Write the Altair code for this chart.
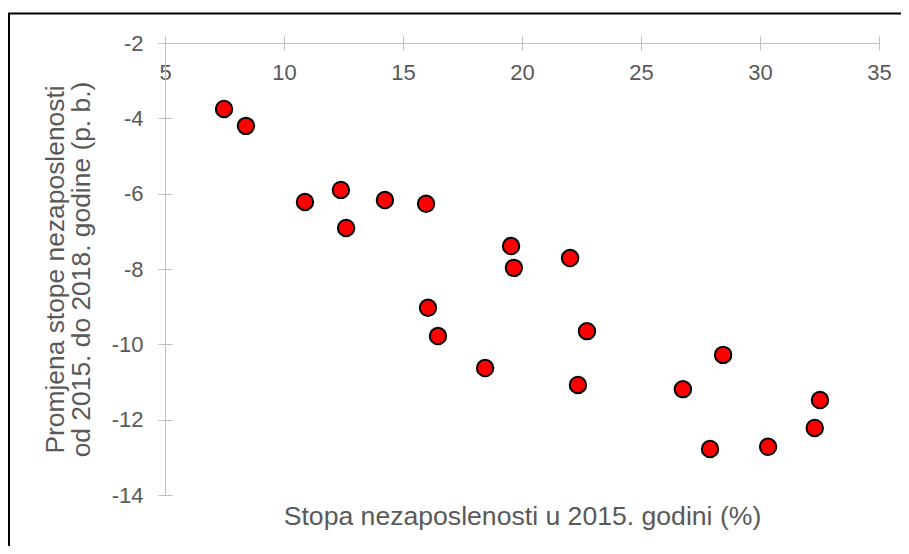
import altair as alt
import pandas as pd

# Data
x_vals = [7.48, 8.40, 10.88, 12.39, 12.61, 14.24, 15.97, 16.05, 16.47, 18.45,
          19.54, 19.66, 22.02, 22.73, 22.35, 26.76, 28.45, 27.90, 30.34, 32.52, 32.30]
y_vals = [-3.75, -4.20, -6.22, -5.90, -6.91, -6.17, -6.27, -9.03, -9.78, -10.63,
          -7.39, -7.97, -7.71, -9.65, -11.08, -11.19, -10.28, -12.78, -12.72, -11.48, -12.22]
x_ticks = [5, 10, 15, 20, 25, 30, 35]
y_ticks = [-14, -12, -10, -8, -6, -4, -2]

x_title = "Stopa nezaposlenosti u 2015. godini (%)"
y_title = ["Promjena stope nezaposlenosti", "od 2015. do 2018. godine (p. b.)"]

df = pd.DataFrame({"x": x_vals, "y": y_vals})

FONT = "Liberation Sans"
AX = "#bfbfbf"
TXT = "#595959"
W, H = 714, 452
FS = 22
MINUS_FIX = "replace(datum.label, '\u2212', '-')"

xs = alt.Scale(domain=[5, 35], nice=False, zero=False)
ys = alt.Scale(domain=[-14, -2], nice=False, zero=False)

common = dict(labelFont=FONT, titleFont=FONT, labelFontSize=FS,
              labelColor=TXT, titleColor=TXT, domainColor=AX, tickColor=AX,
              grid=False, titleFontWeight="normal", labelExpr=MINUS_FIX,
              labelFlush=False, labelOverlap=False)

# frame around the whole figure
frame = alt.Chart(pd.DataFrame({"a": [0]})).mark_rect(
    fill=None, stroke="black", strokeWidth=2
).encode(
    x=alt.value(-156), x2=alt.value(W + 60),
    y=alt.value(-29.5), y2=alt.value(H + 80)
)

# Layer A: visible points, left y axis with labels/title, x title at bottom
pts = alt.Chart(df).mark_point(
    shape="circle", filled=True, fill="#ff0000", stroke="black",
    strokeWidth=2, size=270, opacity=1
).encode(
    x=alt.X("x:Q", scale=xs, axis=alt.Axis(
        orient="bottom", domain=False, ticks=False, labels=False,
        title=x_title, titleFontSize=26.6, titleX=W / 2, titleY=29,
        titleAlign="center", titleBaseline="alphabetic", **common)),
    y=alt.Y("y:Q", scale=ys, axis=alt.Axis(
        orient="left", values=y_ticks, tickSize=7, labelPadding=15,
        title=y_title, titleFontSize=26.4, titleX=-102,
        titleBaseline="alphabetic", titleLineHeight=26, **common)),
)

# Layer B: x axis line at the top (y=-2) with labels below; inward y ticks
axB = alt.Chart(df).mark_point(opacity=0).encode(
    x=alt.X("x:Q", scale=xs, axis=alt.Axis(
        orient="bottom", offset=-H, values=x_ticks, tickSize=7,
        labelPadding=12, title=None, **common)),
    y=alt.Y("y:Q", scale=ys, axis=alt.Axis(
        orient="right", offset=-W, values=y_ticks, tickSize=7,
        labels=False, domain=False, title=None, **common)),
)

# Layer C: upward x ticks so ticks cross the axis line
axC = alt.Chart(df).mark_point(opacity=0).encode(
    x=alt.X("x:Q", scale=xs, axis=alt.Axis(
        orient="top", values=x_ticks, tickSize=7, labels=False,
        domain=False, title=None, **common)),
    y=alt.Y("y:Q", scale=ys, axis=None),
)

chart = alt.layer(frame, axC, axB, pts).resolve_axis(
    x="independent", y="independent"
).properties(
    width=W, height=H,
    autosize=alt.AutoSizeParams(type="none"),
    padding={"left": 157, "top": 35, "right": 22, "bottom": 51},
    background="white",
).configure_view(stroke="transparent", strokeWidth=0)

chart.save("out.html", embed_options={"renderer": "svg", "actions": False})
